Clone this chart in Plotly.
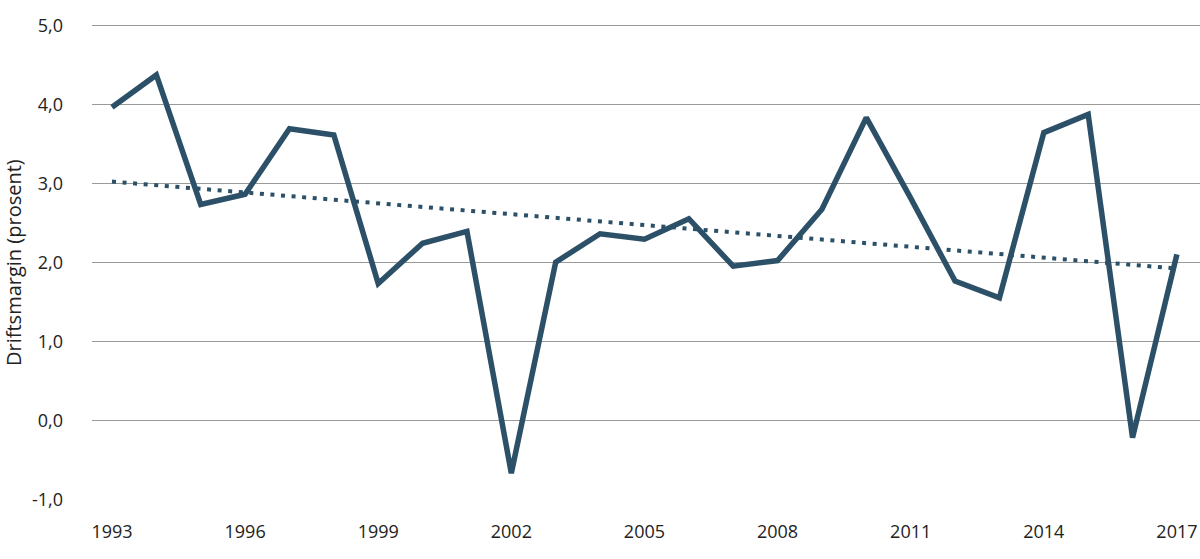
import plotly.graph_objects as go

years = list(range(1993, 2018))
margin_values = [3.97, 4.38, 2.74, 2.87, 3.70, 3.62, 1.74, 2.25, 2.40, -0.66,
                 2.01, 2.37, 2.30, 2.56, 1.96, 2.03, 2.68, 3.84, 2.82, 1.77,
                 1.56, 3.65, 3.88, -0.21, 2.11]
trend_years = [1993, 2017]
trend_values = [3.03, 1.93]
x_ticks = [1993, 1996, 1999, 2002, 2005, 2008, 2011, 2014, 2017]
y_ticks = [-1, 0, 1, 2, 3, 4, 5]
y_tick_labels = ["-1,0", "0,0", "1,0", "2,0", "3,0", "4,0", "5,0"]
y_title = "Driftsmargin (prosent)"

line_color = "#2c5068"
font_family = "Open Sans, Noto Sans, sans-serif"

fig = go.Figure()
fig.add_trace(go.Scatter(x=trend_years, y=trend_values, mode="lines",
                         line=dict(color=line_color, width=4, dash="4px,6.6px"),
                         hoverinfo="skip", showlegend=False))
fig.add_trace(go.Scatter(x=years, y=margin_values, mode="lines",
                         line=dict(color=line_color, width=5.5),
                         showlegend=False))

fig.update_layout(
    width=1200, height=559,
    margin=dict(l=92, r=0, t=22, b=59),
    paper_bgcolor="white", plot_bgcolor="white",
    font=dict(family=font_family, size=18, color="#222222"),
    xaxis=dict(range=[1992.55, 2017.52], tickmode="array", tickvals=x_ticks,
               ticktext=[str(v) for v in x_ticks], showgrid=False,
               zeroline=False, showline=False, ticks="",
               ticklabelstandoff=19, tickfont=dict(size=18)),
    yaxis=dict(range=[-1.0, 5.05], tickmode="array", tickvals=y_ticks,
               ticktext=y_tick_labels, showgrid=True, gridcolor="#9a9a9a",
               gridwidth=1.2, zeroline=False, showline=False, ticks="",
               ticklabelstandoff=28, tickfont=dict(size=18)),
    annotations=[dict(text=y_title, xref="paper", yref="paper",
                      x=-(92 - 14) / 1108, y=0.5 - 0.5 * 0.05 / 6.05,
                      xanchor="center", yanchor="middle", textangle=-90,
                      showarrow=False,
                      font=dict(size=20, color="#222222", family=font_family))],
)

fig.write_html("out.html", config={"displayModeBar": False},
               post_script="document.body.style.margin='0';document.body.style.overflow='hidden';")
